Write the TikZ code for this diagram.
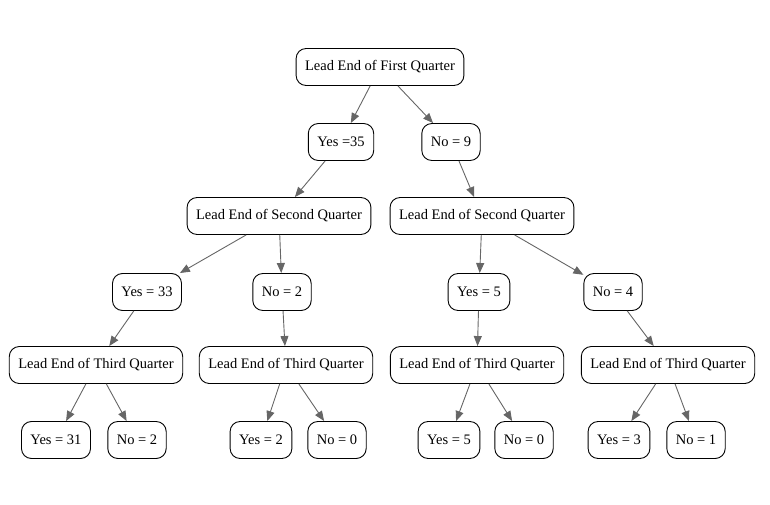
\documentclass[tikz,border=0pt]{standalone}
\usepackage{fontspec}
\setmainfont{Liberation Serif}
\usetikzlibrary{arrows.meta}
\definecolor{edgegray}{HTML}{666666}
\begin{document}
\begin{tikzpicture}[x=1pt,y=-1pt,
  box/.style={draw=black, line width=0.9pt, rounded corners=10pt, fill=white,
    font=\fontsize{14.5}{16}\selectfont, inner xsep=9pt, minimum height=37pt},
  edge/.style={draw=edgegray, line width=0.9pt, -{Triangle[length=10pt,width=8pt]}}]
\useasboundingbox (0,0) rectangle (770,505);
\node[box] (root) at (380,67) {Lead End of First Quarter};
\node[box] (y35) at (341,142) {Yes =35};
\node[box] (n9) at (451,142) {No = 9};
\node[box] (l2a) at (279,216) {Lead End of Second Quarter};
\node[box] (l2b) at (482,216) {Lead End of Second Quarter};
\node[box] (y33) at (147,292) {Yes = 33};
\node[box] (n2a) at (282,292) {No = 2};
\node[box] (y5a) at (479,292) {Yes = 5};
\node[box] (n4) at (613,292) {No = 4};
\node[box] (l3a) at (96,365) {Lead End of Third Quarter};
\node[box] (l3b) at (286,365) {Lead End of Third Quarter};
\node[box] (l3c) at (477,365) {Lead End of Third Quarter};
\node[box] (l3d) at (668,365) {Lead End of Third Quarter};
\node[box] (y31) at (56,440) {Yes = 31};
\node[box] (n2b) at (137,440) {No = 2};
\node[box] (y2) at (261,440) {Yes = 2};
\node[box] (n0a) at (337,440) {No = 0};
\node[box] (y5b) at (449,440) {Yes = 5};
\node[box] (n0b) at (524,440) {No = 0};
\node[box] (y3) at (619,440) {Yes = 3};
\node[box] (n1) at (696,440) {No = 1};
\draw[edge] (root) -- (y35);
\draw[edge] (root) -- (n9);
\draw[edge] (y35) -- (l2a);
\draw[edge] (n9) -- (l2b);
\draw[edge] (l2a) -- (y33);
\draw[edge] (l2a) -- (n2a);
\draw[edge] (l2b) -- (y5a);
\draw[edge] (l2b) -- (n4);
\draw[edge] (y33) -- (l3a);
\draw[edge] (n2a) -- (l3b);
\draw[edge] (y5a) -- (l3c);
\draw[edge] (n4) -- (l3d);
\draw[edge] (l3a) -- (y31);
\draw[edge] (l3a) -- (n2b);
\draw[edge] (l3b) -- (y2);
\draw[edge] (l3b) -- (n0a);
\draw[edge] (l3c) -- (y5b);
\draw[edge] (l3c) -- (n0b);
\draw[edge] (l3d) -- (y3);
\draw[edge] (l3d) -- (n1);
\end{tikzpicture}
\end{document}
